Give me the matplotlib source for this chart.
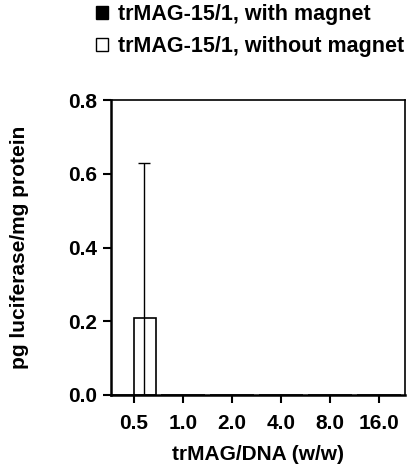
import matplotlib
matplotlib.use("Agg")
import matplotlib.pyplot as plt
from matplotlib.patches import Rectangle
import numpy as np

plt.rcParams['font.family'] = ['Liberation Sans', 'DejaVu Sans']
plt.rcParams['font.weight'] = 'bold'

categories = ["0.5", "1.0", "2.0", "4.0", "8.0", "16.0"]
with_magnet = [0.0, 0.0, 0.0, 0.0, 0.0, 0.0]
without_magnet = [0.21, 0.0, 0.0, 0.0, 0.0, 0.0]
without_magnet_err = [0.42, 0.0, 0.0, 0.0, 0.0, 0.0]
yticks = [0.0, 0.2, 0.4, 0.6, 0.8]

FS = 15

fig = plt.figure(figsize=(4.09, 4.70), dpi=100)
ax = fig.add_axes([111/409, (470-395)/470, (405-111)/409, (395-100)/470])

x = np.arange(len(categories))
w = 0.45
ax.bar(x - w/2, with_magnet, width=w, color='black', edgecolor='black', linewidth=1.2, zorder=2)
ax.bar(x + w/2, without_magnet, width=w, color='white', edgecolor='black', linewidth=1.2, zorder=2)
for xi, v, e in zip(x, without_magnet, without_magnet_err):
    if e > 0:
        ax.errorbar(xi + w/2 - 0.02, v, yerr=[[v], [e]], fmt='none', ecolor='black',
                    elinewidth=1.0, capsize=4, capthick=1.0, zorder=3)

ax.set_xlim(-0.47, 5.53)
ax.set_ylim(0, 0.8)
ax.set_xticks(x)
ax.set_xticklabels(categories)
ax.set_yticks(yticks)
ax.set_yticklabels([f"{t:.1f}" for t in yticks])
ax.tick_params(direction='out', length=6, width=1.5, labelsize=FS)
ax.tick_params(axis='x', pad=7.5)
ax.tick_params(axis='y', pad=4)
for lab in ax.get_xticklabels() + ax.get_yticklabels():
    lab.set_fontweight('bold')
for s in ['left', 'bottom']:
    ax.spines[s].set_linewidth(1.8)
for s in ['top', 'right']:
    ax.spines[s].set_linewidth(1.2)

ax.set_xlabel("trMAG/DNA (w/w)", fontsize=FS, fontweight='bold', labelpad=9)
ax.set_ylabel("pg luciferase/mg protein", fontsize=FS, fontweight='bold', labelpad=28)

handles = [Rectangle((0, 0), 1, 1, facecolor='black', edgecolor='black'),
           Rectangle((0, 0), 1, 1, facecolor='white', edgecolor='black')]
leg = fig.legend(handles, ["trMAG-15/1, with magnet", "trMAG-15/1, without magnet"],
                 loc='upper left', bbox_to_anchor=(96/409, 1 - 4/470), frameon=False,
                 prop={'family': 'Liberation Sans', 'weight': 'bold', 'size': 15.5},
                 handlelength=0.55, handleheight=0.55, handletextpad=0.45, labelspacing=0.5,
                 borderpad=0, borderaxespad=0)

fig.savefig("out.png", dpi=100)
